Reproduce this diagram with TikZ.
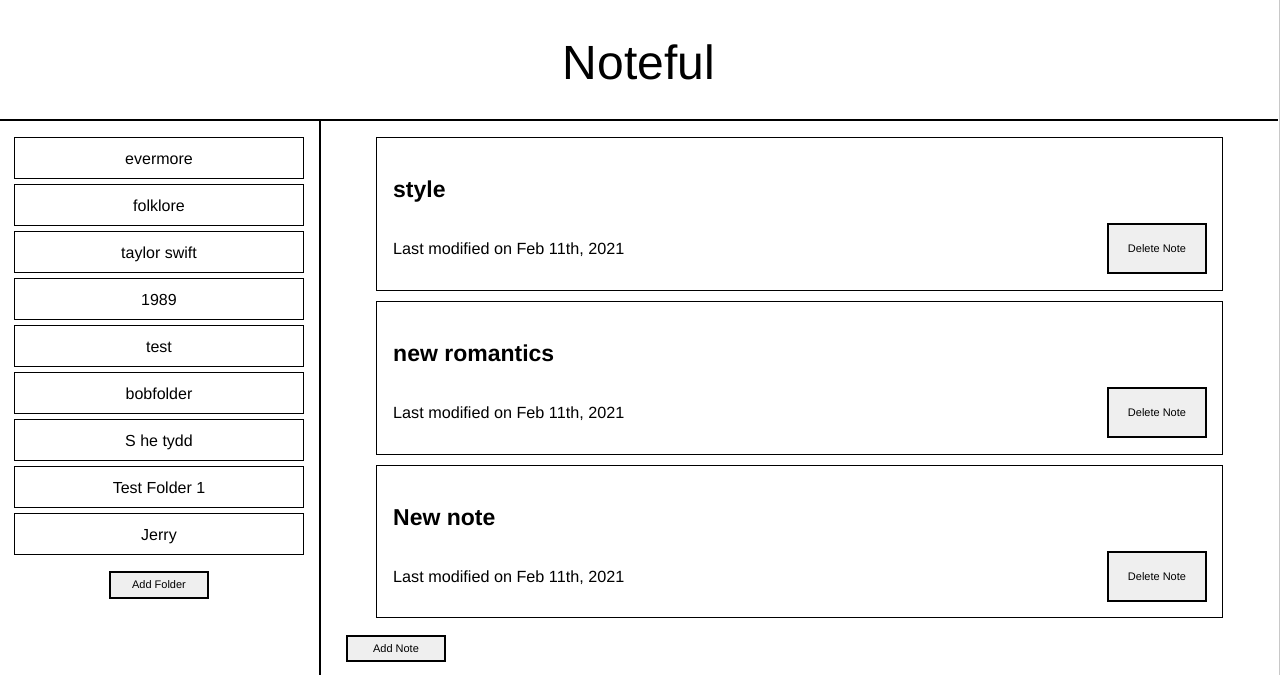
\documentclass[tikz,border=0pt]{standalone}
\usepackage{fontspec}
\setmainfont{Liberation Sans}
\definecolor{btngray}{HTML}{EFEFEF}
\definecolor{edgegray}{HTML}{C8C8C8}
\begin{document}
\begin{tikzpicture}[x=1pt,y=-1pt,
  folder/.style={draw, line width=1pt, minimum width=289pt, minimum height=41pt, inner sep=0pt, text height=12pt, text depth=0pt, font=\fontsize{16}{19}\selectfont},
  card/.style={draw, line width=1pt, minimum width=846pt, minimum height=153pt, inner sep=0pt},
  btn/.style={draw, line width=2pt, fill=btngray, minimum width=98pt, inner sep=0pt, text height=7pt, text depth=0pt, font=\fontsize{11}{13}\selectfont},
  ntitle/.style={anchor=base west, inner sep=0pt, font=\fontsize{23}{27}\selectfont\bfseries},
  ndate/.style={anchor=base west, inner sep=0pt, font=\fontsize{16.2}{19}\selectfont},
  rule/.style={line width=2pt}]
\useasboundingbox (0,0) rectangle (1280,675);
\fill[white] (0,0) rectangle (1280,675);
% header
\node[inner sep=0pt, font=\fontsize{48}{56}\selectfont] (title) at (639,62) {Noteful};
\coordinate (hl) at (0,120);
\coordinate (hr) at (1278,120);
\draw[rule] (hl) -- (hr);
\coordinate (dt) at (320,120);
\coordinate (db) at (320,675);
\draw[rule] (dt) -- (db);
\coordinate (et) at (1279.5,0);
\coordinate (eb) at (1279.5,675);
\draw[edgegray, line width=1pt] (et) -- (eb);
% folders
\node[folder] (f1) at (159,158) {evermore};
\node[folder] (f2) at (159,205) {folklore};
\node[folder] (f3) at (159,252) {taylor swift};
\node[folder] (f4) at (159,299) {1989};
\node[folder] (f5) at (159,346) {test};
\node[folder] (f6) at (159,393) {bobfolder};
\node[folder] (f7) at (159,440) {S he tydd};
\node[folder] (f8) at (159,487) {Test Folder 1};
\node[folder] (f9) at (159,534) {Jerry};
\node[btn, minimum height=26pt] (addf) at (159,585) {Add Folder};
% notes
\node[card] (c1) at (799.5,214) {};
\node[ntitle] (t1) at (393,197) {style};
\node[ndate] (d1) at (393,254.5) {Last modified on Feb 11th, 2021};
\node[btn, minimum height=49pt] (b1) at (1157,248.5) {Delete Note};
\node[card] (c2) at (799.5,378) {};
\node[ntitle] (t2) at (393,361) {new romantics};
\node[ndate] (d2) at (393,418.5) {Last modified on Feb 11th, 2021};
\node[btn, minimum height=49pt] (b2) at (1157,412.5) {Delete Note};
\node[card, minimum height=152pt] (c3) at (799.5,541.5) {};
\node[ntitle] (t3) at (393,525) {New note};
\node[ndate] (d3) at (393,582.5) {Last modified on Feb 11th, 2021};
\node[btn, minimum height=49pt] (b3) at (1157,576.5) {Delete Note};
\node[btn, minimum height=25pt] (addn) at (396,648.5) {Add Note};
\end{tikzpicture}
\end{document}
